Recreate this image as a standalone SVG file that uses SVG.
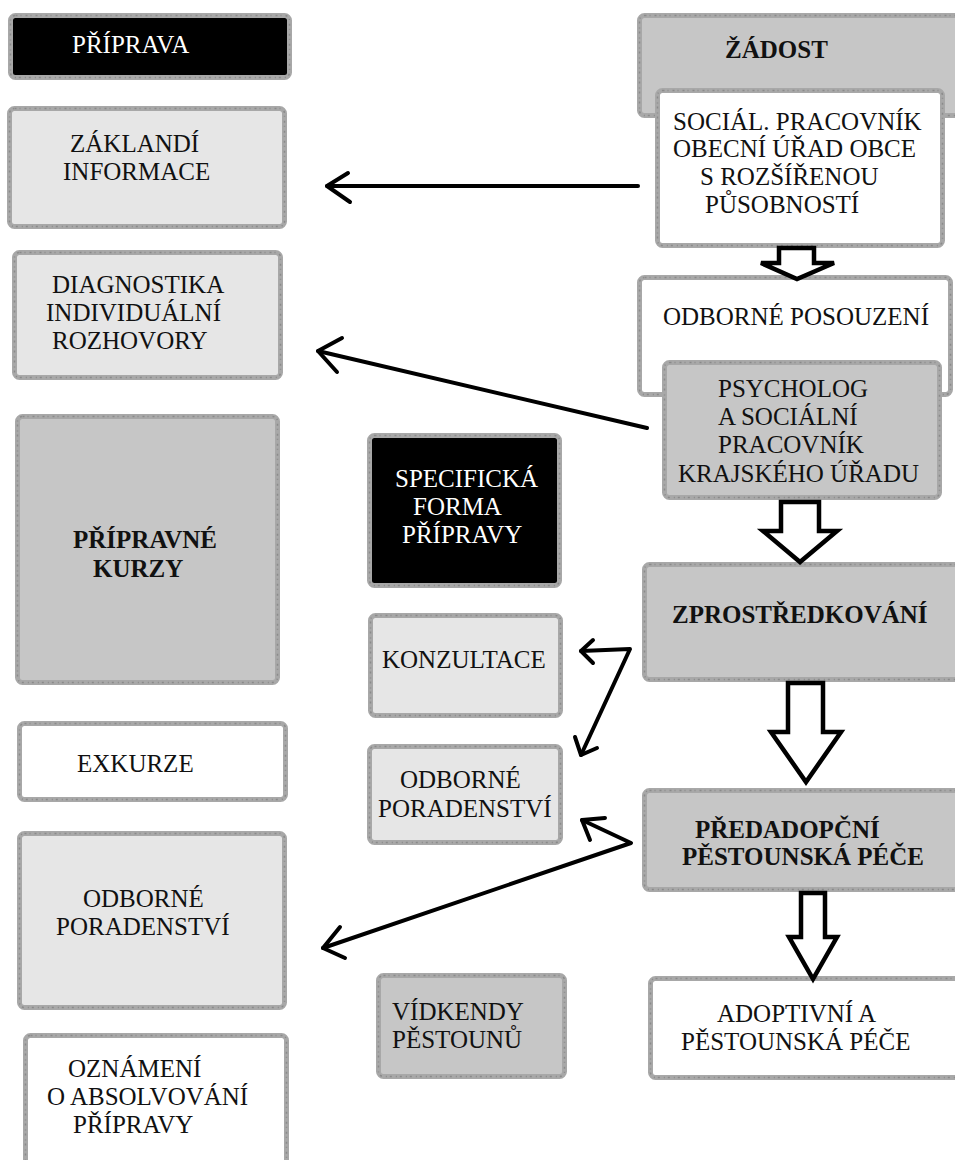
<svg xmlns="http://www.w3.org/2000/svg" width="955" height="1160" viewBox="0 0 955 1160">
<defs>
<style>
.box{stroke:#a8a8a8;stroke-width:5}
.grain{fill:none;stroke:#8a8a8a;stroke-width:1.5;stroke-dasharray:2 3 1 4}
.blk{fill:#000}
.lt{fill:#e6e6e6}
.md{fill:#c6c6c6}
.wh{fill:#fff}
text{font-family:"Liberation Serif","Times New Roman",serif;font-size:25px;fill:#111}
.inv{fill:#fff}
.b{font-weight:bold}
.con{fill:none;stroke:#000;stroke-width:4;stroke-linecap:round;stroke-linejoin:round}
.hol{fill:#fff;stroke:#000;stroke-width:4.5;stroke-linejoin:miter}
</style>
</defs>
<rect width="955" height="1160" fill="#fff"/>

<g id="n-priprava">
<rect class="box blk" x="10.5" y="15.5" width="279" height="62" rx="5"/>
<rect class="grain" x="10.5" y="15.5" width="279" height="62" rx="5"/>
<text class="inv" x="72" y="53">PŘÍPRAVA</text>
</g>
<g id="n-zakladni">
<rect class="box lt" x="9.5" y="108.5" width="275" height="118" rx="5"/>
<rect class="grain" x="9.5" y="108.5" width="275" height="118" rx="5"/>
<text x="70" y="152">ZÁKLANDÍ</text>
<text x="63" y="180">INFORMACE</text>
</g>
<g id="n-diagnostika">
<rect class="box lt" x="14.5" y="252.5" width="266" height="125" rx="5"/>
<rect class="grain" x="14.5" y="252.5" width="266" height="125" rx="5"/>
<text x="52" y="293">DIAGNOSTIKA</text>
<text x="46" y="321">INDIVIDUÁLNÍ</text>
<text x="52" y="349">ROZHOVORY</text>
</g>
<g id="n-kurzy">
<rect class="box md" x="17.5" y="416.5" width="260" height="266" rx="5"/>
<rect class="grain" x="17.5" y="416.5" width="260" height="266" rx="5"/>
<text class="b" x="73" y="548">PŘÍPRAVNÉ</text>
<text class="b" x="93" y="577">KURZY</text>
</g>
<g id="n-exkurze">
<rect class="box wh" x="19.5" y="723.5" width="266" height="76" rx="5"/>
<rect class="grain" x="19.5" y="723.5" width="266" height="76" rx="5"/>
<text x="77" y="772">EXKURZE</text>
</g>
<g id="n-poradenstvi-left">
<rect class="box lt" x="19.5" y="833.5" width="265" height="174" rx="5"/>
<rect class="grain" x="19.5" y="833.5" width="265" height="174" rx="5"/>
<text x="83" y="907">ODBORNÉ</text>
<text x="56" y="935">PORADENSTVÍ</text>
</g>
<g id="n-oznameni">
<rect class="box wh" x="25.5" y="1035.5" width="261" height="140" rx="5"/>
<rect class="grain" x="25.5" y="1035.5" width="261" height="140" rx="5"/>
<text x="68" y="1077">OZNÁMENÍ</text>
<text x="47" y="1105">O ABSOLVOVÁNÍ</text>
<text x="73" y="1133">PŘÍPRAVY</text>
</g>

<g id="n-specificka">
<rect class="box blk" x="369.5" y="435.5" width="190" height="150" rx="5"/>
<rect class="grain" x="369.5" y="435.5" width="190" height="150" rx="5"/>
<text class="inv" x="395" y="487">SPECIFICKÁ</text>
<text class="inv" x="413" y="515">FORMA</text>
<text class="inv" x="402" y="543">PŘÍPRAVY</text>
</g>
<g id="n-konzultace">
<rect class="box lt" x="370.5" y="615.5" width="190" height="100" rx="5"/>
<rect class="grain" x="370.5" y="615.5" width="190" height="100" rx="5"/>
<text x="382" y="668">KONZULTACE</text>
</g>
<g id="n-poradenstvi-mid">
<rect class="box lt" x="369.5" y="746.5" width="191" height="96" rx="5"/>
<rect class="grain" x="369.5" y="746.5" width="191" height="96" rx="5"/>
<text x="400" y="788">ODBORNÉ</text>
<text x="378" y="817">PORADENSTVÍ</text>
</g>
<g id="n-vikendy">
<rect class="box md" x="378.5" y="975.5" width="186" height="101" rx="5"/>
<rect class="grain" x="378.5" y="975.5" width="186" height="101" rx="5"/>
<text x="392" y="1020">VÍDKENDY</text>
<text x="392" y="1048">PĚSTOUNŮ</text>
</g>

<g id="n-zadost">
<rect class="box md" x="639.5" y="15.5" width="330" height="100" rx="5"/>
<rect class="grain" x="639.5" y="15.5" width="330" height="100" rx="5"/>
<text class="b" x="725" y="58">ŽÁDOST</text>
</g>
<g id="n-socialni">
<rect class="box wh" x="657.5" y="90.5" width="285" height="155" rx="5"/>
<rect class="grain" x="657.5" y="90.5" width="285" height="155" rx="5"/>
<text x="673" y="130">SOCIÁL. PRACOVNÍK</text>
<text x="673" y="157">OBECNÍ ÚŘAD OBCE</text>
<text x="700" y="185">S ROZŠÍŘENOU</text>
<text x="705" y="213">PŮSOBNOSTÍ</text>
</g>
<g id="n-posouzeni">
<rect class="box wh" x="639.5" y="277.5" width="311" height="117" rx="5"/>
<rect class="grain" x="639.5" y="277.5" width="311" height="117" rx="5"/>
<text x="663" y="325">ODBORNÉ POSOUZENÍ</text>
</g>
<g id="n-psycholog">
<rect class="box md" x="664.5" y="362.5" width="275" height="135" rx="5"/>
<rect class="grain" x="664.5" y="362.5" width="275" height="135" rx="5"/>
<text x="718" y="397">PSYCHOLOG</text>
<text x="718" y="425">A SOCIÁLNÍ</text>
<text x="718" y="453">PRACOVNÍK</text>
<text x="678" y="482">KRAJSKÉHO ÚŘADU</text>
</g>
<g id="n-zprostredkovani">
<rect class="box md" x="644.5" y="564.5" width="330" height="115" rx="5"/>
<rect class="grain" x="644.5" y="564.5" width="330" height="115" rx="5"/>
<text class="b" x="672" y="623">ZPROSTŘEDKOVÁNÍ</text>
</g>
<g id="n-predadopcni">
<rect class="box md" x="644.5" y="790.5" width="330" height="99" rx="5"/>
<rect class="grain" x="644.5" y="790.5" width="330" height="99" rx="5"/>
<text class="b" x="695" y="838">PŘEDADOPČNÍ</text>
<text class="b" x="682" y="865">PĚSTOUNSKÁ PÉČE</text>
</g>
<g id="n-adoptivni">
<rect class="box wh" x="650.5" y="978.5" width="330" height="99" rx="5"/>
<rect class="grain" x="650.5" y="978.5" width="330" height="99" rx="5"/>
<text x="717" y="1022">ADOPTIVNÍ A</text>
<text x="681" y="1050">PĚSTOUNSKÁ PÉČE</text>
</g>

<g id="connectors">
<path class="hol" d="M779,248 V263 H761 L797,279 L834,263 H814 V248 Z"/>
<path class="hol" d="M781,502 V531 H763 L800,562 L837,531 H819 V502 Z"/>
<path class="hol" d="M788,683 V732 H771 L806,782 L841,732 H823 V683 Z"/>
<path class="hol" d="M801,893 V937 H789 L813,979 L837,937 H825 V893 Z"/>

<path class="con" d="M638,186 H327"/>
<path class="con" d="M348,173 L327,186 L350,202"/>

<path class="con" d="M647,428 L318,351"/>
<path class="con" d="M342,338 L318,351 L337,372"/>

<path class="con" d="M581,651 L630,649 L581,755"/>
<path class="con" d="M593,640 L581,651 L593,663"/>
<path class="con" d="M575,737 L581,755 L597,748"/>

<path class="con" d="M582,820 L631,843 L323,948"/>
<path class="con" d="M605,818 L582,820 L590,840"/>
<path class="con" d="M340,927 L323,948 L345,958"/>
</g>
</svg>
